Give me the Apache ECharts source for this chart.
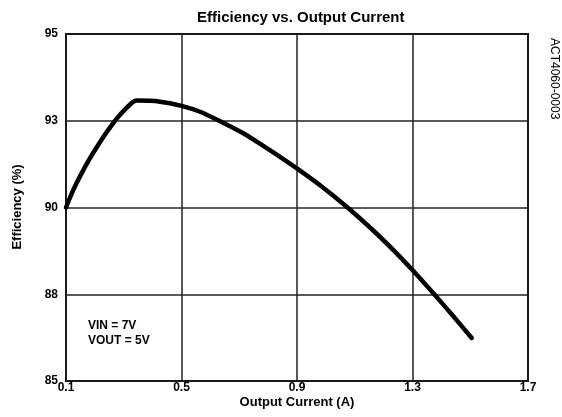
<!DOCTYPE html>
<html>
<head>
<meta charset="utf-8">
<script src="https://cdn.jsdelivr.net/npm/echarts@6/dist/echarts.min.js"></script>
<style>html,body{margin:0;padding:0;background:#fff;}#c{width:562px;height:417px;}</style>
</head>
<body>
<div id="c"></div>
<script>
var currentA = [0.1, 0.125, 0.148, 0.183, 0.218, 0.252, 0.287, 0.322, 0.345, 0.426, 0.5, 0.564, 0.633, 0.714, 0.795, 0.841, 0.899, 0.98, 1.078, 1.165, 1.245, 1.303, 1.373, 1.44, 1.505];
var efficiency = [90.0, 90.5, 90.89, 91.42, 91.89, 92.3, 92.67, 92.97, 93.08, 93.05, 92.93, 92.76, 92.49, 92.14, 91.71, 91.46, 91.13, 90.64, 89.98, 89.33, 88.68, 88.17, 87.52, 86.88, 86.24];
var xTicks = [0.1, 0.5, 0.9, 1.3, 1.7];
var yTicks = [85, 87.5, 90, 92.5, 95];

var data = currentA.map(function (x, i) { return [x, efficiency[i]]; });
var chart = echarts.init(document.getElementById('c'));
var FF = '"Liberation Sans", Arial, sans-serif';
chart.setOption({
  animation: false,
  backgroundColor: '#fff',
  grid: { left: 66, right: 34, top: 34, bottom: 36, show: true, borderColor: '#000', borderWidth: 2, backgroundColor: 'transparent' },
  xAxis: {
    type: 'value', min: xTicks[0], max: xTicks[xTicks.length - 1], interval: 0.4,
    axisLine: { show: false }, axisTick: { show: false },
    splitLine: { show: true, lineStyle: { color: '#222', width: 1.5 } },
    axisLabel: { color: '#000', fontFamily: FF, fontWeight: 'bold', fontSize: 12, margin: 1,
      formatter: function (v) { return v.toFixed(1); } }
  },
  yAxis: {
    type: 'value', min: yTicks[0], max: yTicks[yTicks.length - 1], interval: 2.5,
    axisLine: { show: false }, axisTick: { show: false },
    splitLine: { show: true, lineStyle: { color: '#222', width: 1.5 } },
    axisLabel: { color: '#000', fontFamily: FF, fontWeight: 'bold', fontSize: 12, margin: 8,
      verticalAlign: 'middle',
      formatter: function (v) { return String(Math.round(v)); } }
  },
  series: [{
    type: 'line', data: data, showSymbol: false, smooth: 0.3,
    lineStyle: { color: '#000', width: 4.5, cap: 'round', join: 'round' }
  }],
  graphic: [
    { type: 'text', left: 297 - 100, top: 10, style: { text: 'Efficiency vs. Output Current', width: 200, align: 'center', fill: '#000', font: 'bold 15px ' + FF } },
    { type: 'text', x: 297, y: 396, style: { text: 'Output Current (A)', align: 'center', fill: '#000', font: 'bold 13px ' + FF } },
    { type: 'text', x: 17, y: 207, rotation: Math.PI / 2, style: { text: 'Efficiency (%)', align: 'center', verticalAlign: 'middle', fill: '#000', font: 'bold 13px ' + FF } },
    { type: 'text', x: 554, y: 38, rotation: -Math.PI / 2, style: { text: 'ACT4060-0003', align: 'left', verticalAlign: 'middle', fill: '#000', font: '12px ' + FF } },
    { type: 'text', x: 88, y: 320, style: { text: 'VIN = 7V', fill: '#000', font: 'bold 12px ' + FF } },
    { type: 'text', x: 88, y: 335, style: { text: 'VOUT = 5V', fill: '#000', font: 'bold 12px ' + FF } }
  ]
});
</script>
</body>
</html>
